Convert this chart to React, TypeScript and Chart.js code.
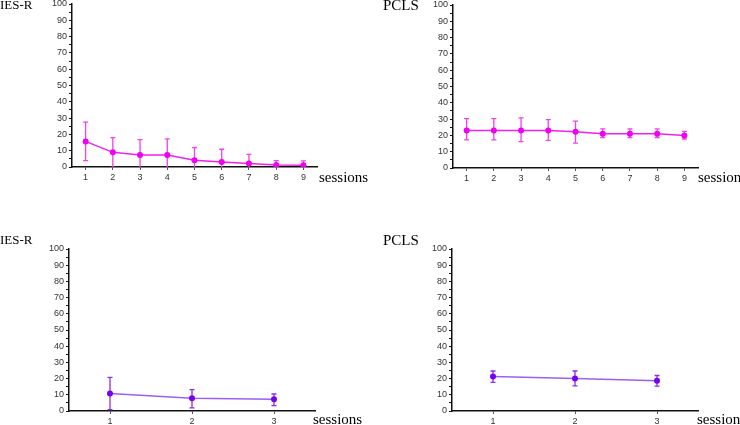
import React, { useEffect, useRef } from 'react';
import { Chart, registerables } from 'chart.js';
Chart.register(...registerables);

// ---- data ----
const sessions9 = ['1', '2', '3', '4', '5', '6', '7', '8', '9'];
const sessions3 = ['1', '2', '3'];

const iesA = [15.7, 9, 7.3, 7.4, 4.1, 3.1, 2.1, 1.2, 1.1];
const iesAHigh = [27.5, 18, 16.8, 17.2, 11.9, 10.9, 7.8, 3.9, 3.8];
const iesALow = [3.9, -0.2, -2.2, -2.4, -3.7, -4.7, -3.6, -1.5, -1.6];

const pclA = [23, 23, 23, 23, 22.2, 21, 21, 21, 20];
const pclAHigh = [30.3, 30.3, 30.7, 29.7, 28.8, 24, 24, 24, 22.5];
const pclALow = [17.2, 17.2, 16.2, 17, 15.3, 18.6, 18.6, 18.7, 17.8];

const iesB = [10.8, 7.9, 7.2];
const iesBHigh = [20.8, 13.2, 10.5];
const iesBLow = [0.8, 1.9, 3.3];

const pclB = [21.3, 20, 18.6];
const pclBHigh = [24.7, 24.7, 21.9];
const pclBLow = [17.7, 15.5, 15.3];

const yTickStep = 5;
const yMin = 0;
const yMax = 100;

type Panel = {
  left: number; top: number; width: number; height: number;
  labels: string[]; mean: number[]; high: number[]; low: number[];
  yTitle: string; yTitleX: number; yTitleY: number; yTitleFont: string;
  xTitleX: number; xTitleY: number;
  yW: number; xH: number; padRight: number; padTop: number;
  color: string; lineColor: string; errColor: string; lineWidth: number;
};

const magenta = { color: '#f000f0', lineColor: '#f020f0', errColor: '#f040f0', lineWidth: 1.5 };
const purple = { color: '#7a00f0', lineColor: '#9a60f0', errColor: '#8a30ea', lineWidth: 1.5 };

const serif = '15px "Liberation Serif", "Times New Roman", serif';
const serifSmall = '13px "Liberation Serif", "Times New Roman", serif';

const panels: Panel[] = [
  { left: 0, top: 0, width: 370, height: 190, labels: sessions9, mean: iesA, high: iesAHigh, low: iesALow,
    yTitle: 'IES-R', yTitleX: 0, yTitleY: 6, yTitleFont: serifSmall, xTitleX: 319, xTitleY: 178,
    yW: 72, xH: 23, padRight: 53, padTop: 4, ...magenta },
  { left: 370, top: 0, width: 370, height: 190, labels: sessions9, mean: pclA, high: pclAHigh, low: pclALow,
    yTitle: 'PCLS', yTitleX: 13, yTitleY: 6, yTitleFont: serif, xTitleX: 328, xTitleY: 178,
    yW: 83, xH: 22, padRight: 42, padTop: 5, ...magenta },
  { left: 0, top: 235, width: 370, height: 190, labels: sessions3, mean: iesB, high: iesBHigh, low: iesBLow,
    yTitle: 'IES-R', yTitleX: 0, yTitleY: 6, yTitleFont: serifSmall, xTitleX: 313, xTitleY: 185,
    yW: 69, xH: 14, padRight: 55, padTop: 14, ...purple },
  { left: 370, top: 235, width: 370, height: 190, labels: sessions3, mean: pclB, high: pclBHigh, low: pclBLow,
    yTitle: 'PCLS', yTitleX: 13, yTitleY: 6, yTitleFont: serif, xTitleX: 327, xTitleY: 185,
    yW: 82, xH: 14, padRight: 42, padTop: 14, ...purple },
];

const tickFont = { family: '"Liberation Sans", Arial, sans-serif', size: 9 };

function PanelChart({ p }: { p: Panel }) {
  const ref = useRef<HTMLCanvasElement>(null);
  useEffect(() => {
    if (!ref.current) return;
    const errPlugin = {
      id: 'errbars',
      beforeDatasetsDraw(chart: any) {
        const ctx = chart.ctx;
        const meta = chart.getDatasetMeta(0);
        const y = chart.scales.y;
        const a = chart.chartArea;
        ctx.save();
        ctx.beginPath();
        ctx.rect(a.left, a.top - 2, a.right - a.left, a.bottom - a.top + 2);
        ctx.clip();
        ctx.strokeStyle = p.errColor;
        ctx.lineWidth = 1.3;
        meta.data.forEach((pt: any, i: number) => {
          const x = pt.x;
          const yh = y.getPixelForValue(p.high[i]);
          const yl = y.getPixelForValue(p.low[i]);
          ctx.beginPath();
          ctx.moveTo(x, yh); ctx.lineTo(x, yl);
          ctx.moveTo(x - 2.5, yh); ctx.lineTo(x + 2.5, yh);
          ctx.moveTo(x - 2.5, yl); ctx.lineTo(x + 2.5, yl);
          ctx.stroke();
        });
        ctx.restore();
      },
    };
    const textPlugin = {
      id: 'texts',
      afterDraw(chart: any) {
        const ctx = chart.ctx;
        ctx.save();
        ctx.fillStyle = '#000';
        ctx.textBaseline = 'middle';
        ctx.textAlign = 'left';
        ctx.font = p.yTitleFont;
        ctx.fillText(p.yTitle, p.yTitleX, p.yTitleY);
        ctx.font = serif;
        ctx.fillText('sessions', p.xTitleX, p.xTitleY);
        ctx.restore();
      },
    };
    const chart = new Chart(ref.current, {
      type: 'line',
      data: {
        labels: p.labels,
        datasets: [{
          data: p.mean,
          borderColor: p.lineColor,
          borderWidth: p.lineWidth,
          pointRadius: 3,
          pointBackgroundColor: p.color,
          pointBorderColor: p.color,
          pointBorderWidth: 0,
          tension: 0,
          fill: false,
        }],
      },
      options: {
        responsive: false,
        animation: false,
        devicePixelRatio: 1,
        layout: { padding: { left: 0, right: p.padRight, top: p.padTop, bottom: 0 } },
        plugins: { legend: { display: false }, tooltip: { enabled: false } },
        scales: {
          x: {
            type: 'category',
            offset: true,
            afterFit: (s: any) => { s.height = p.xH; s.paddingLeft = 0; s.paddingRight = 0; },
            grid: { display: true, drawOnChartArea: false, drawTicks: true, tickLength: 3, color: '#555', lineWidth: 1 },
            border: { display: true, color: '#111', width: 1.5 },
            ticks: { font: tickFont, color: '#333', padding: 2, maxRotation: 0, autoSkip: false },
          },
          y: {
            min: yMin,
            max: yMax,
            afterFit: (s: any) => { s.width = p.yW; s.paddingTop = 0; s.paddingBottom = 0; },
            grid: { display: true, drawOnChartArea: false, drawTicks: true, tickLength: 3, color: '#111', lineWidth: 1 },
            border: { display: true, color: '#111', width: 1.5 },
            ticks: {
              stepSize: yTickStep,
              autoSkip: false,
              font: tickFont,
              color: '#333',
              padding: 2,
              callback: (v: any) => (Number(v) % 10 === 0 ? String(v) : ''),
            },
          },
        },
      },
      plugins: [errPlugin, textPlugin],
    } as any);
    return () => chart.destroy();
  }, [p]);
  return (
    <canvas
      ref={ref}
      width={p.width}
      height={p.height}
      style={{ position: 'absolute', left: p.left, top: p.top, width: p.width, height: p.height }}
    />
  );
}

export default function App() {
  return (
    <div style={{ position: 'fixed', left: 0, top: 0, width: 740, height: 425, background: '#fff', overflow: 'hidden' }}>
      {panels.map((p, i) => <PanelChart key={i} p={p} />)}
    </div>
  );
}
